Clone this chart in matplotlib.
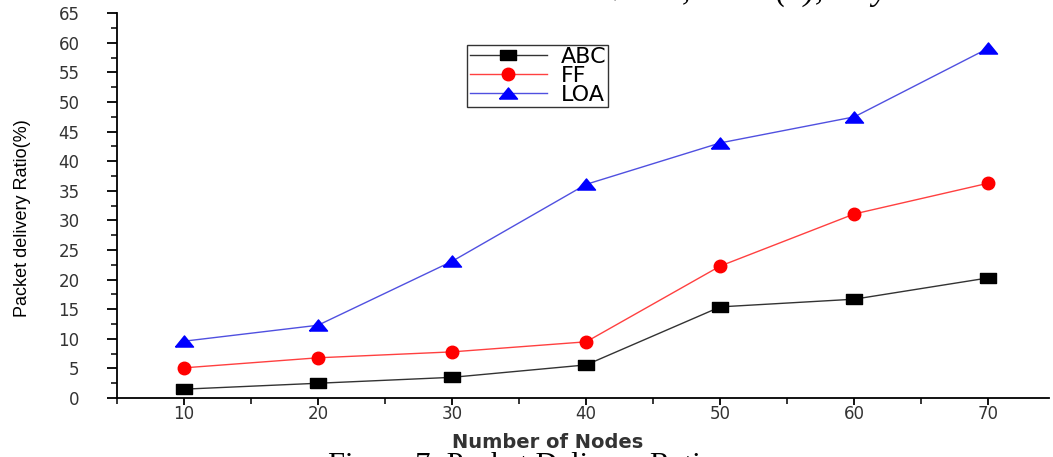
import matplotlib
matplotlib.use("Agg")
import matplotlib.pyplot as plt
from matplotlib.ticker import MultipleLocator

nodes = [10, 20, 30, 40, 50, 60, 70]
abc = [1.5, 2.5, 3.5, 5.6, 15.4, 16.7, 20.3]
ff = [5.1, 6.8, 7.8, 9.5, 22.3, 31.1, 36.3]
loa = [9.6, 12.3, 23.1, 36.1, 43.1, 47.5, 59.1]
series_names = ["ABC", "FF", "LOA"]
x_label = "Number of Nodes"
y_label = "Packet delivery Ratio(%)"
caption = "Figure 7: Packet Delivery Ratio"
header = "Vol. 5, Issue (4), July 2015"

fig = plt.figure(figsize=(10.53, 4.57), dpi=100)
ax = fig.add_axes([0.111, 0.129, 0.885, 0.842])

sq = [(-1.5, -1), (1.5, -1), (1.5, 1), (-1.5, 1), (-1.5, -1)]
tri = [(-1.3, -0.8), (1.3, -0.8), (0, 0.8), (-1.3, -0.8)]

ax.plot(nodes, abc, color='#333333', lw=1, marker=sq, ms=11, mfc='black', mec='black', label=series_names[0])
ax.plot(nodes, ff, color='#ff4040', lw=1, marker='o', ms=9, mfc='red', mec='red', label=series_names[1])
ax.plot(nodes, loa, color='#5050e0', lw=1, marker=tri, ms=13, mfc='blue', mec='blue', label=series_names[2])

ax.set_xlim(5, 74.5)
ax.set_ylim(0, 65)
ax.xaxis.set_major_locator(MultipleLocator(10))
ax.xaxis.set_minor_locator(MultipleLocator(5))
ax.yaxis.set_major_locator(MultipleLocator(5))
ax.yaxis.set_minor_locator(MultipleLocator(2.5))
ax.spines['top'].set_visible(False)
ax.spines['right'].set_visible(False)
ax.spines['left'].set_linewidth(1.3)
ax.spines['bottom'].set_linewidth(1.3)
ax.tick_params(which='major', direction='out', length=7, width=1.3, labelsize=12, colors='black')
ax.tick_params(which='minor', direction='out', length=4, width=1.1)
ax.tick_params(axis='x', which='major', length=5, pad=0)
for lab in ax.get_xticklabels() + ax.get_yticklabels():
    lab.set_family('DejaVu Sans')
    lab.set_color('#333333')
ax.tick_params(axis='y', pad=20)

fig.text(0.52, 1 - 442 / 457, x_label, fontsize=14, family='DejaVu Sans', weight='semibold',
         color='#333333', ha='center', va='center')
fig.text(0.021, 1 - 218 / 457, y_label, fontsize=13, rotation=90,
         family=['Liberation Sans Narrow', 'Liberation Sans'], ha='center', va='center')

leg = ax.legend(loc='upper left', bbox_to_anchor=(0.376, 0.918), frameon=True, fancybox=False,
                edgecolor='black', fontsize=16, handlelength=3.5, borderpad=0.1,
                labelspacing=-0.05, handletextpad=0.6, borderaxespad=0)
leg.get_frame().set_linewidth(1.0)
for t in leg.get_texts():
    t.set_family('DejaVu Sans')

fig.text(0.496, 1 - 452 / 457, caption, fontsize=22, family='Liberation Serif', ha='center', va='top')
fig.text(0.745, 1.0, header, fontsize=24, family='Liberation Serif', style='italic',
         ha='center', va='baseline')

fig.savefig('out.png', dpi=100)
